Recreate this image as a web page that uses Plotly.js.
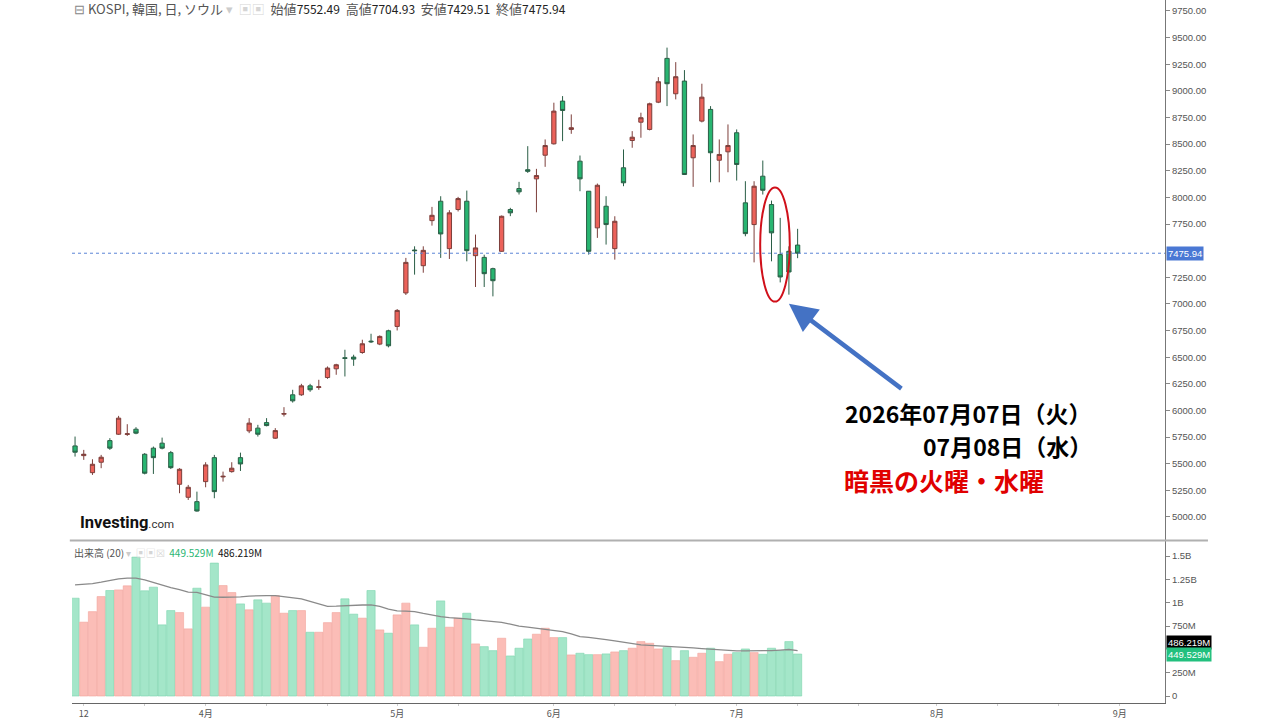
<!DOCTYPE html>
<html><head><meta charset="utf-8">
<script src="https://cdn.plot.ly/plotly-3.0.1.min.js"></script>
<style>html,body{margin:0;padding:0;background:#fff}#chart{width:1280px;height:720px}</style>
</head><body><div id="chart"></div>
<script>
// ---- data ----
const openP  = [5667,5576,5416,5514,5717,5777,5775,5824,5589,5646,5693,5604,5307,5185,5144,5332,5557,5376,5426,5557,
                5808,5834,5886,5740,5965,6147,6147,6231,6216,6309,6391,6495,6501,6544,6651,6623,6748,6789,7103,7506,
                7359,7782,7964,7519,7886,7964,7453,7437,7331,7494,7886,8083,8260,8174,8396,8503,8904,8638,8340,8058,
                7714,7917,7519,8278,8534,8706,8638,8894,9305,8973,9092,8372,8716,8826,8349,8428,8607,7949,7745,8199,
                7933,7463,7494,7552.49];
const highP  = [5755,5630,5542,5583,5740,5949,5871,5843,5600,5661,5745,5620,5458,5301,5238,5514,5583,5426,5514,5604,
                5928,5865,5928,5834,6031,6194,6250,6250,6288,6413,6438,6570,6523,6664,6720,6705,6758,6952,7432,7541,
                7541,7911,8011,7880,8005,8064,7651,7462,7340,7830,7902,8146,8481,8268,8544,8889,8951,8779,8393,8060,
                8130,8011,7823,8450,8622,8795,8889,9129,9406,9270,9195,8591,9067,8857,8544,8685,8638,8152,8152,8346,
                7970,7808,7541,7704.93];
const lowP   = [5567,5536,5395,5458,5630,5771,5761,5777,5400,5404,5635,5450,5223,5160,5050,5279,5176,5332,5416,5432,
                5787,5755,5851,5733,5943,6074,6137,6175,6194,6297,6335,6319,6419,6532,6633,6613,6592,6751,7084,7275,
                7293,7735,7432,7422,7868,7400,7159,7159,7071,7490,7824,8027,8230,7860,8287,8496,8528,8597,8058,7463,
                7620,7557,7416,8105,8466,8560,8629,8885,8857,8920,8210,8099,8704,8142,8142,8236,8158,7635,7390,8027,
                7400,7202,7087,7429.51];
const closeP = [5608,5589,5495,5561,5646,5928,5781,5787,5411,5557,5646,5463,5448,5279,5056,5489,5238,5382,5458,5498,
                5881,5777,5858,5811,5971,6090,6231,6194,6222,6398,6429,6489,6482,6626,6645,6695,6607,6939,7390,7500,
                7503,7832,7657,7855,7989,7500,7526,7284,7218,7823,7855,8052,8245,8205,8487,8810,8816,8654,8174,7494,
                8114,7745,7776,8137,8565,8748,8879,9086,9067,9133,8215,8487,8941,8419,8403,8487,8309,7660,8105,8067,
                7667,7253,7300,7475.94];
const volumeM = [1048,791,904,1065,1130,1137,1180,1488,1127,1166,762,915,894,719,1155,952,1424,1183,1108,987,
                 923,1030,995,1076,887,915,915,683,683,786,894,1041,877,834,1130,708,673,869,995,762,
                 522,726,1019,737,834,887,558,529,486,619,429,512,611,662,726,626,626,440,458,443,
                 443,451,472,486,512,583,565,504,518,379,486,415,458,512,368,447,465,504,465,447,
                 512,486,583,449.529];
const volMA20M = [1191,1195,1205,1220,1240,1255,1262,1263,1245,1216,1190,1162,1140,1113,1110,1085,1060,1058,1058,1062,
                  1070,1076,1076,1075,1065,1052,1040,1015,990,960,962,968,972,975,976,960,930,913,910,905,
                  885,865,850,840,835,826,815,808,800,790,770,748,738,725,708,700,690,665,636,628,
                  620,605,590,575,560,547,542,538,534,527,522,515,508,500,495,488,483,483,483,484,
                  487,492,498,486.219];
const xTickIdx  = [1, 8, 15, 22, 29, 37, 44, 55, 62, 69, 76, 83, 90, 99, 106, 113, 120];
const xTickText = ['12','','4月','','','5月','','6月','','','7月','','','8月','','','9月'];
const priceTicks = [5000,5250,5500,5750,6000,6250,6500,6750,7000,7250,7750,8000,8250,8500,8750,9000,9250,9500,9750];
const volTicksM = [0,250,750,1000,1250,1500];
const volTickText = ['0','250M','750M','1B','1.25B','1.5B'];
const headerLabels = ['始値','高値','安値','終値'];
const noteLines = ['2026年07月07日（火）','07月08日（水）','暗黒の火曜・水曜'];

// ---- build ----
const idx = openP.map((_, i) => i);
const n = idx.length;
const upColor = '#fbbdb7', dnColor = '#a4e6c9';
const volColors = idx.map(i => closeP[i] >= openP[i] ? upColor : dnColor);
const volLineColors = idx.map(i => closeP[i] >= openP[i] ? '#f2a49c' : '#7ed5ae');

const candle = {
  type: 'candlestick', x: idx, open: openP, high: highP, low: lowP, close: closeP,
  xaxis: 'x', yaxis: 'y', whiskerwidth: 0, hoverinfo: 'skip',
  increasing: {line: {color: '#7d3f3b', width: 1}, fillcolor: '#ec625a'},
  decreasing: {line: {color: '#2a5e46', width: 1}, fillcolor: '#28b571'}
};
const vol = {
  type: 'bar', x: idx, y: volumeM.map(v => v * 1e6), xaxis: 'x', yaxis: 'y2',
  marker: {color: volColors, line: {color: volLineColors, width: 0.6}}, hoverinfo: 'skip'
};
const ma = {
  type: 'scatter', mode: 'lines', x: idx, y: volMA20M.map(v => v * 1e6), xaxis: 'x', yaxis: 'y2',
  line: {color: '#8a8a8a', width: 1.3}, hoverinfo: 'skip'
};

const axisFont = {family: 'Liberation Sans, Arial, sans-serif', size: 9.5, color: '#555'};
const last = n - 1;
const fmt = v => v.toFixed(2);
let header = '<span style="color:#888">⊟</span> KOSPI, 韓国, 日, ソウル <span style="color:#ccc">▾</span>&nbsp;&nbsp;<span style="color:#d5d5d5">▣▣</span>&nbsp;&nbsp;';
const hv = [openP[last], highP[last], lowP[last], closeP[last]];
header += headerLabels.map((l, k) => l + '<span style="color:#222;font-size:12px">' + fmt(hv[k]) + '</span>').join('&nbsp;&nbsp;');

const cjk = 'Noto Sans CJK JP, sans-serif';
const PH = 703;
const ellX0 = (last - 3) - 1.3, ellX1 = (last - 2) + 1.1;
const ellY0 = Math.min(lowP[last - 3], lowP[last - 2]) - 180;
const ellY1 = Math.max(highP[last - 3], highP[last - 2]) + 123;

const layout = {
  width: 1280, height: 720, paper_bgcolor: '#fff', plot_bgcolor: '#fff',
  margin: {l: 72, r: 115, t: 0, b: 17}, showlegend: false, bargap: 0.06, boxgap: 0.3,
  font: {family: 'Noto Sans CJK JP, sans-serif'},
  xaxis: {range: [-0.35, 125.2], anchor: 'y2', tickvals: xTickIdx, ticktext: xTickText,
    showline: true, linecolor: '#666', linewidth: 1, ticks: 'outside', ticklen: 2, tickcolor: '#ccc',
    tickfont: {family: cjk, size: 9, color: '#555'}, showgrid: false, zeroline: false,
    rangeslider: {visible: false}, fixedrange: true},
  yaxis: {domain: [(PH - 540) / PH, 1], side: 'right', anchor: 'x', range: [4784, 9853],
    tickvals: priceTicks, ticktext: priceTicks.map(fmt), showline: true, linecolor: '#777', linewidth: 1,
    ticks: 'outside', ticklen: 4, tickcolor: '#888', tickfont: axisFont, showgrid: false, zeroline: false, fixedrange: true},
  yaxis2: {domain: [0, (PH - 541) / PH], side: 'right', anchor: 'x', range: [-75e6, 1660.7e6],
    tickvals: volTicksM.map(v => v * 1e6), ticktext: volTickText, showline: true, linecolor: '#777', linewidth: 1,
    ticks: 'outside', ticklen: 4, tickcolor: '#888', tickfont: axisFont, showgrid: false, zeroline: false, fixedrange: true},
  shapes: [
    {type: 'line', xref: 'paper', yref: 'y', x0: 0, x1: 1, y0: closeP[last], y1: closeP[last],
     line: {color: '#5b84d6', width: 1, dash: 'dot'}},
    {type: 'line', xref: 'paper', yref: 'paper', x0: -0.002, x1: 1.0393, y0: (PH - 540.5) / PH, y1: (PH - 540.5) / PH,
     line: {color: '#b0b0b0', width: 2}},
    {type: 'circle', xref: 'x', yref: 'y', x0: ellX0, x1: ellX1, y0: ellY0, y1: ellY1,
     line: {color: '#d0101a', width: 2}}
  ],
  annotations: [
    {xref: 'paper', yref: 'paper', x: 0, y: 1 - 9 / PH, xanchor: 'left', yanchor: 'middle', showarrow: false,
     text: header, font: {family: cjk, size: 13, color: '#555'}},
    {xref: 'paper', yref: 'paper', x: 0, y: (PH - 552) / PH, xanchor: 'left', yanchor: 'middle', showarrow: false,
     text: '出来高 (20) <span style="color:#ccc">▾</span>&nbsp;&nbsp;<span style="color:#d5d5d5">▣▣☒</span>&nbsp;&nbsp;<span style="color:#2bb673">' + volumeM[last].toFixed(3) + 'M</span>&nbsp;&nbsp;<span style="color:#111">' + volMA20M[last].toFixed(3) + 'M</span>',
     font: {family: cjk, size: 10, color: '#555'}},
    {xref: 'paper', yref: 'paper', x: 6 / 1093, y: (PH - 522) / PH, xanchor: 'left', yanchor: 'middle', showarrow: false,
     text: '<b>Investing</b><span style="font-size:11.5px;color:#333">.com</span>',
     font: {family: 'Roboto, sans-serif', size: 16.5, color: '#111'}},
    {xref: 'paper', yref: 'y', x: 1, xanchor: 'left', xshift: 1, y: closeP[last], yanchor: 'middle', showarrow: false,
     text: fmt(closeP[last]), bgcolor: '#4a78d4', borderpad: 1, font: {family: axisFont.family, size: 9.5, color: '#fff'}},
    {xref: 'paper', yref: 'y2', x: 1, xanchor: 'left', xshift: 1, y: volMA20M[last] * 1e6, yshift: 8, yanchor: 'middle', showarrow: false,
     text: volMA20M[last].toFixed(3) + 'M', bgcolor: '#000', borderpad: 1, font: {family: axisFont.family, size: 9.5, color: '#fff'}},
    {xref: 'paper', yref: 'y2', x: 1, xanchor: 'left', xshift: 1, y: volumeM[last] * 1e6, yanchor: 'middle', showarrow: false,
     text: volumeM[last].toFixed(3) + 'M', bgcolor: '#22c07e', borderpad: 1, font: {family: axisFont.family, size: 9.5, color: '#fff'}},
    {xref: 'paper', yref: 'paper', x: (1094 - 72) / 1093, y: (PH - 413) / PH, xanchor: 'right', yanchor: 'middle', showarrow: false,
     text: '<b>' + noteLines[0] + '</b>', font: {family: cjk, size: 23, color: '#000'}},
    {xref: 'paper', yref: 'paper', x: (1094 - 72) / 1093, y: (PH - 446) / PH, xanchor: 'right', yanchor: 'middle', showarrow: false,
     text: '<b>' + noteLines[1] + '</b>', font: {family: cjk, size: 23, color: '#000'}},
    {xref: 'paper', yref: 'paper', x: (842 - 72) / 1093, y: (PH - 480) / PH, xanchor: 'left', yanchor: 'middle', showarrow: false,
     text: '<b>' + noteLines[2] + '</b>', font: {family: cjk, size: 25, color: '#e00000'}},
    {xref: 'x', yref: 'y', x: last - 1, y: lowP[last - 2] - 200, ax: 114, ay: 86, text: '', showarrow: true,
     arrowhead: 2, arrowsize: 1.25, arrowwidth: 4.5, arrowcolor: '#4472c4'}
  ]
};

Plotly.newPlot('chart', [vol, ma, candle], layout, {staticPlot: true, displayModeBar: false});
</script>
</body></html>
